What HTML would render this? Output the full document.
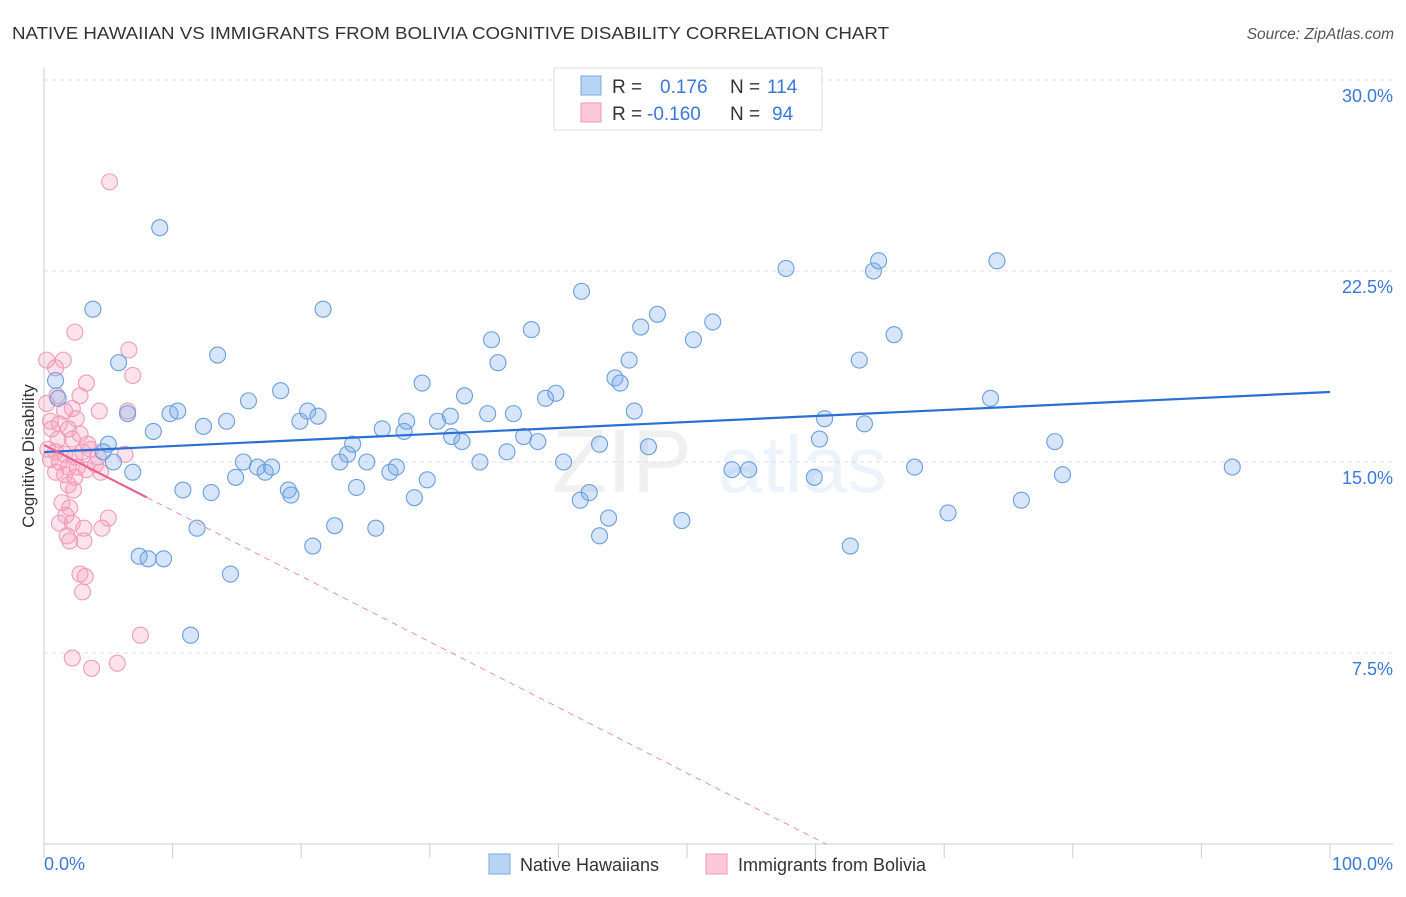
<!DOCTYPE html>
<html><head><meta charset="utf-8"><style>
body{margin:0;background:#fff;font-family:"Liberation Sans",sans-serif;}
svg text{font-family:"Liberation Sans",sans-serif;}
</style></head><body>
<svg id="chart" width="1406" height="892" viewBox="0 0 1406 892" xmlns="http://www.w3.org/2000/svg">
<text x="12" y="39" font-size="17.5" fill="#333" textLength="877" lengthAdjust="spacingAndGlyphs">NATIVE HAWAIIAN VS IMMIGRANTS FROM BOLIVIA COGNITIVE DISABILITY CORRELATION CHART</text>
<text x="1394" y="39" font-size="15.5" fill="#555" font-style="italic" text-anchor="end">Source: ZipAtlas.com</text>
<g opacity="0.12">
<text x="552" y="492" font-size="90" fill="#888" font-family="Liberation Serif">ZIP</text>
<text x="718" y="492" font-size="80" fill="#6b9fd8">atlas</text>
</g>
<g id="grid"></g>
<g id="axes"></g>
<g id="pinkPts"></g>
<g id="bluePts"></g>
<g id="trends"></g>
<text transform="translate(34,456) rotate(-90)" font-size="17" fill="#333" text-anchor="middle">Cognitive Disability</text>
<g>
<rect x="554" y="68" width="268" height="62" fill="#fff" stroke="#ddd"/>
<rect x="581" y="76" width="20" height="19" fill="#b8d4f5" stroke="#7aa7e0"/>
<rect x="581" y="103" width="20" height="19" fill="#fbc8d8" stroke="#f09ab8"/>
<text x="612" y="93" font-size="19" fill="#333">R = </text><text x="660" y="93" font-size="19" fill="#3a78d8">0.176</text>
<text x="730" y="93" font-size="19" fill="#333">N = </text><text x="767" y="93" font-size="19" fill="#3a78d8">114</text>
<text x="612" y="120" font-size="19" fill="#333">R = </text><text x="647" y="120" font-size="19" fill="#3a78d8">-0.160</text>
<text x="730" y="120" font-size="19" fill="#333">N = </text><text x="772" y="120" font-size="19" fill="#3a78d8">94</text>
</g>
<g>
<rect x="489" y="854" width="21" height="20" fill="#b8d4f5" stroke="#7aa7e0"/>
<text x="520" y="871" font-size="18" fill="#333">Native Hawaiians</text>
<rect x="706" y="854" width="21" height="20" fill="#fbc8d8" stroke="#f09ab8"/>
<text x="738" y="871" font-size="18" fill="#333">Immigrants from Bolivia</text>
</g>
</svg>
<script>
const yTicks=[7.5,15,22.5,30];
const yTickLabels=["7.5%","15.0%","22.5%","30.0%"];
const xTicks=[0,10,20,30,40,50,60,70,80,90,100];
const blueX=[9.0,3.8,21.7,13.5,5.8,0.9,1.1,6.5,9.8,10.4,8.5,12.4,14.2,15.9,18.4,19.9,20.5,21.3,5.0,4.6,5.4,6.9,15.5,16.6,17.2,17.7,14.9,10.8,13.0,19.0,19.2,11.9,7.4,8.1,9.3,14.5,11.4,20.9,22.6,24.3,25.8,23.6,23.0,24.0,25.1,26.3,26.9,27.4,28.0,28.2,28.8,29.8,29.4,30.6,31.6,31.7,32.5,32.7,33.9,34.5,34.8,35.3,36.0,36.5,37.3,37.9,38.4,39.0,39.8,40.4,41.8,41.7,42.4,43.2,43.2,43.9,44.4,44.8,45.5,45.9,46.4,47.0,47.7,49.6,50.5,52.0,53.5,54.8,57.7,59.9,60.3,60.7,62.7,63.4,63.8,64.5,64.9,66.1,67.7,70.3,73.6,74.1,76.0,78.6,79.2,92.4];
const blueY=[24.2,21.0,21.0,19.2,18.9,18.2,17.5,16.9,16.9,17.0,16.2,16.4,16.6,17.4,17.8,16.6,17.0,16.8,15.7,15.4,15.0,14.6,15.0,14.8,14.6,14.8,14.4,13.9,13.8,13.9,13.7,12.4,11.3,11.2,11.2,10.6,8.2,11.7,12.5,14.0,12.4,15.3,15.0,15.7,15.0,16.3,14.6,14.8,16.2,16.6,13.6,14.3,18.1,16.6,16.8,16.0,15.8,17.6,15.0,16.9,19.8,18.9,15.4,16.9,16.0,20.2,15.8,17.5,17.7,15.0,21.7,13.5,13.8,15.7,12.1,12.8,18.3,18.1,19.0,17.0,20.3,15.6,20.8,12.7,19.8,20.5,14.7,14.7,22.6,14.4,15.9,16.7,11.7,19.0,16.5,22.5,22.9,20.0,14.8,13.0,17.5,22.9,13.5,15.8,14.5,14.8];
const pinkX=[5.1,2.4,6.6,0.2,1.5,0.9,6.9,3.3,1.0,2.8,0.2,2.2,4.3,6.5,1.6,2.5,0.5,1.2,1.9,0.6,2.8,1.1,2.2,3.4,0.3,0.9,1.6,2.4,3.0,3.6,4.2,6.3,0.5,1.2,1.9,2.6,3.3,4.0,0.9,1.6,2.4,4.4,1.9,2.3,1.4,2.0,1.7,5.0,1.2,2.2,3.1,4.5,1.8,2.0,3.1,3.2,3.0,7.5,2.2,5.7,3.7,2.8];
const pinkY=[26.0,20.1,19.4,19.0,19.0,18.7,18.4,18.1,17.6,17.6,17.3,17.1,17.0,17.0,17.0,16.7,16.6,16.5,16.3,16.3,16.1,15.9,15.9,15.7,15.5,15.4,15.3,15.2,15.4,15.5,15.2,15.3,15.1,15.0,14.8,14.8,14.7,14.9,14.6,14.5,14.4,14.6,14.1,13.9,13.4,13.2,12.9,12.8,12.6,12.6,12.4,12.4,12.1,11.9,11.9,10.5,9.9,8.2,7.3,7.1,6.9,10.6];
const blueTrend=[15.39,17.75];
const pinkTrend=[15.67,-10.1];

const NS="http://www.w3.org/2000/svg";
const X0=44,X1=1330,Y0=844,PXY=191/7.5;
function sx(v){return X0+(X1-X0)*v/100;}
function sy(v){return Y0-v*PXY;}
function mk(tag,attrs,parent){const e=document.createElementNS(NS,tag);for(const k in attrs)e.setAttribute(k,attrs[k]);parent.appendChild(e);return e;}
const grid=document.getElementById('grid'),axes=document.getElementById('axes');
yTicks.forEach((t,i)=>{
  const l=mk('line',{x1:X0,x2:1393,y1:sy(t),y2:sy(t),stroke:'#ddd','stroke-dasharray':'4,4'},grid);
  
  
  const tx=mk('text',{x:1393,y:sy(t)+22,'font-size':18,fill:'#3a78d8','text-anchor':'end'},axes);
  tx.textContent=yTickLabels[i];
  
  
});
mk('line',{x1:X0,x2:X0,y1:68,y2:Y0,stroke:'#ccc'},axes);
mk('line',{x1:X0,x2:1393,y1:Y0,y2:Y0,stroke:'#ccc'},axes);
xTicks.forEach(t=>{
  const l=mk('line',{x1:sx(t),x2:sx(t),y1:Y0,y2:Y0+14,stroke:'#ccc'},axes);
  
  
});
const xl0=mk('text',{x:44,y:870,'font-size':18,fill:'#3a78d8'},axes);xl0.textContent='0.0%';


const xl1=mk('text',{x:1393,y:870,'font-size':18,fill:'#3a78d8','text-anchor':'end'},axes);xl1.textContent='100.0%';


const pg=document.getElementById('pinkPts');
pinkX.forEach((x,i)=>{
  const c=mk('circle',{cx:sx(x),cy:sy(pinkY[i]),r:8,fill:'rgba(244,160,190,0.3)',stroke:'#f29ab9','stroke-width':1.1},pg);
  
  
});
const bg=document.getElementById('bluePts');
blueX.forEach((x,i)=>{
  const c=mk('circle',{cx:sx(x),cy:sy(blueY[i]),r:8,fill:'rgba(120,170,235,0.3)',stroke:'#6a9ee0','stroke-width':1.1},bg);
  
  
});
const tg=document.getElementById('trends');
const bl=mk('line',{x1:sx(0),y1:sy(blueTrend[0]),x2:sx(100),y2:sy(blueTrend[1]),stroke:'#2a6fd4','stroke-width':2.2},tg);


const pv=x=>pinkTrend[0]+(pinkTrend[1]-pinkTrend[0])*x/100;
const xEnd=100*pinkTrend[0]/(pinkTrend[0]-pinkTrend[1]);
const pd=mk('line',{x1:sx(8),y1:sy(pv(8)),x2:sx(xEnd),y2:sy(0),stroke:'#f08cb0','stroke-width':1,'stroke-dasharray':'6,5'},tg);


const ps=mk('line',{x1:sx(0),y1:sy(pv(0)),x2:sx(8),y2:sy(pv(8)),stroke:'#e8608e','stroke-width':2.2},tg);


</script>
</body></html>
